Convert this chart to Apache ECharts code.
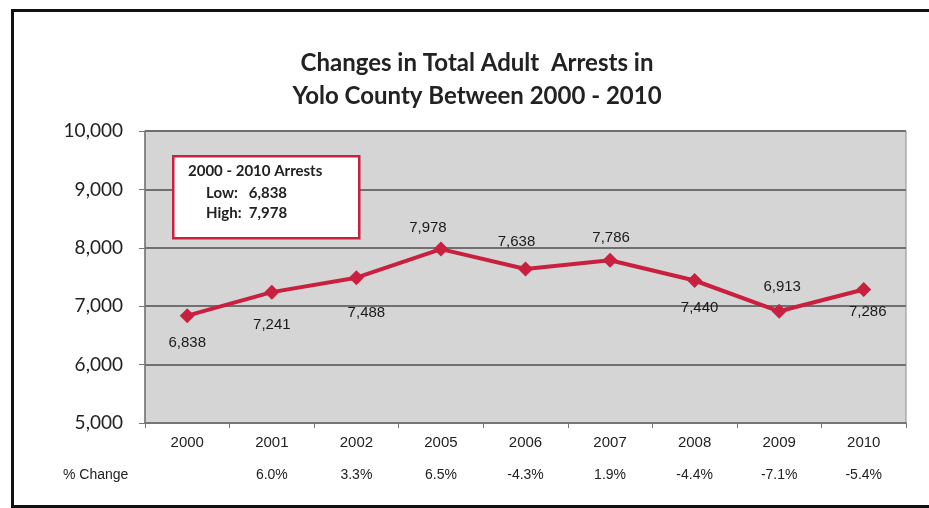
<!DOCTYPE html>
<html><head><meta charset="utf-8">
<script src="https://cdn.jsdelivr.net/npm/echarts@6/dist/echarts.min.js"></script>
<style>html,body{margin:0;padding:0;background:#fff}#c{width:929px;height:508px}</style>
</head><body><div id="c"></div>
<script>
const years = ['2000','2001','2002','2005','2006','2007','2008','2009','2010'];
const arrests = [6838, 7241, 7488, 7978, 7638, 7786, 7440, 6913, 7286];
const pctChange = ['', '6.0%', '3.3%', '6.5%', '-4.3%', '1.9%', '-4.4%', '-7.1%', '-5.4%'];
const yTicks = [5000, 6000, 7000, 8000, 9000, 10000];

// label placement (layout only, pixels relative to each marker)
const labelOffsets = [[0,27],[0,33],[10,35],[-13,-21],[-9,-27],[1,-22],[5,27],[3,-24],[4,22]];

const chart = echarts.init(document.getElementById('c'));
const red = '#c8203e';
chart.setOption({
  animation: false,
  backgroundColor: '#fff',
  title: {
    text: 'Changes in Total Adult  Arrests in\nYolo County Between 2000 - 2010',
    left: 472, top: 42, textAlign: 'center',
    textStyle: {fontFamily: 'Lato', fontWeight: 'bold', fontSize: 24, lineHeight: 33, color: '#222'}
  },
  grid: {left: 145, right: 23, top: 131, bottom: 85, show: true, backgroundColor: '#d5d5d5', borderColor: '#8a8a8a', borderWidth: 1},
  xAxis: [{
    type: 'category', data: years, boundaryGap: true,
    axisLine: {lineStyle: {color: '#777', width: 1.5}},
    axisTick: {show: true, length: 5, lineStyle: {color: '#777'}},
    axisLabel: {margin: 12, fontFamily: 'Liberation Sans', fontSize: 15, color: '#222'}
  }, {
    type: 'category', data: years, position: 'bottom', offset: 33, boundaryGap: true,
    axisLine: {show: false}, axisTick: {show: false},
    axisLabel: {margin: 12, fontFamily: 'Liberation Sans', fontSize: 14, color: '#222',
      formatter: (v, i) => pctChange[i]}
  }],
  yAxis: {
    type: 'value', min: yTicks[0], max: yTicks[yTicks.length-1], interval: 1000,
    axisLine: {show: true, lineStyle: {color: '#777', width: 1.5}},
    axisTick: {show: true, length: 6, lineStyle: {color: '#777'}},
    splitLine: {lineStyle: {color: '#707070', width: 1.8}},
    axisLabel: {margin: 22, fontFamily: 'Lato', fontSize: 19, color: '#222',
      formatter: v => v.toLocaleString('en-US')}
  },
  series: [{
    type: 'line',
    data: arrests.map((v, i) => ({value: v, label: {offset: labelOffsets[i]}})),
    symbol: 'diamond', symbolSize: 15,
    lineStyle: {color: red, width: 4},
    itemStyle: {color: red},
    label: {show: true, position: 'inside', fontFamily: 'Liberation Sans', fontSize: 15, color: '#1a1a1a',
      formatter: p => p.value.toLocaleString('en-US')}
  }],
  graphic: [
    {type: 'rect', left: 10, top: 8, shape: {width: 940, height: 496}, style: {fill: 'none', stroke: '#111', lineWidth: 3}, silent: true},
    {type: 'text', left: 63, top: 468, style: {text: '% Change', fontFamily: 'Liberation Sans', fontSize: 14, fill: '#222'}},
    {type: 'rect', left: 172, top: 155, shape: {width: 186, height: 82}, style: {fill: '#fff', stroke: red, lineWidth: 2.5}, z: 10},
    {type: 'text', left: 188, top: 164, z: 11, style: {text: '2000 - 2010 Arrests', fontFamily: 'Lato', fontWeight: 'bold', fontSize: 15, fill: '#222'}},
    {type: 'text', left: 206, top: 186, z: 11, style: {text: 'Low:   6,838', fontFamily: 'Lato', fontWeight: 'bold', fontSize: 15, fill: '#222'}},
    {type: 'text', left: 206, top: 206, z: 11, style: {text: 'High:  7,978', fontFamily: 'Lato', fontWeight: 'bold', fontSize: 15, fill: '#222'}}
  ]
});
</script></body></html>
